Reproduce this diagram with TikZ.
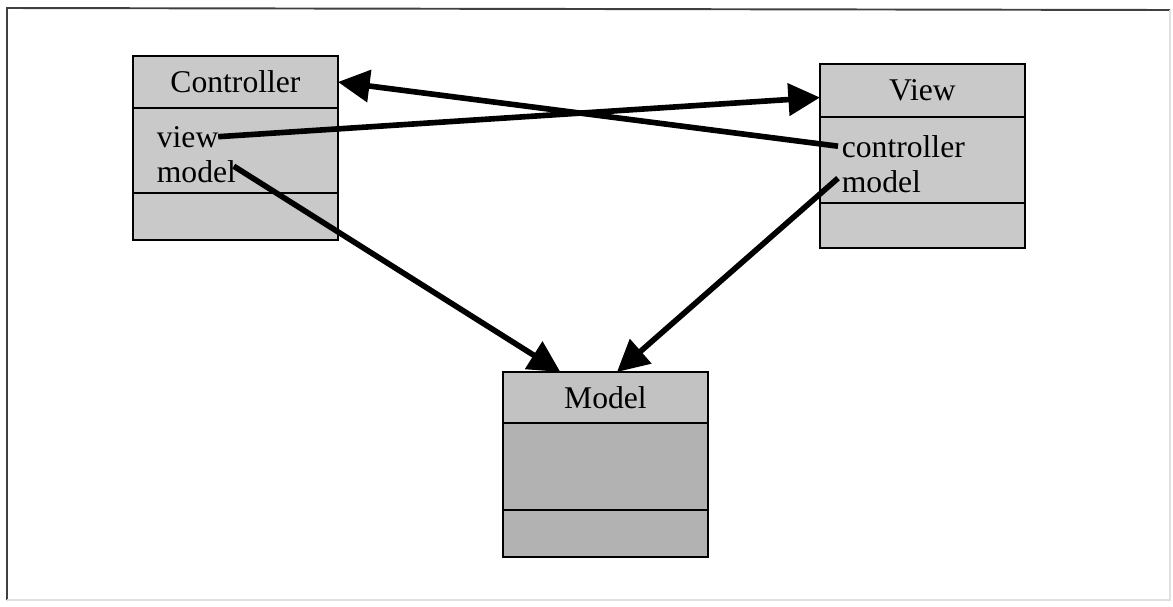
\documentclass[tikz,border=0pt]{standalone}
\usepackage{fontspec}
\setmainfont{Liberation Serif}
\usetikzlibrary{arrows.meta,calc}
\definecolor{boxfill}{gray}{0.79}
\definecolor{modelfill}{gray}{0.70}
\definecolor{modeltop}{gray}{0.76}
\begin{document}
\begin{tikzpicture}[x=0.02cm,y=-0.02cm,
  compart/.style={draw=black, line width=1.5pt, minimum width=4.1cm,
    inner sep=0pt, outer sep=0pt, anchor=north west,
    font=\fontsize{18}{20}\selectfont},
  attr/.style={inner sep=2pt, anchor=base west, font=\fontsize{18}{20}\selectfont},
  assoc/.style={line width=3.2pt, -{Triangle[length=18pt,width=18pt]}}
]
\useasboundingbox (0,0) rectangle (1173,606);

% outer frame
\draw[black!75, line width=1.1pt] (7,600) -- (7,8) -- (1170,10);
\draw[black!12, line width=0.8pt] (1170,10) -- (1170,600) -- (7,600);

% Controller class
\node[compart, fill=boxfill, minimum height=1.04cm] (ctitle) at (133,56) {\raisebox{-2pt}{Controller}};
\node[compart, fill=boxfill, minimum height=1.70cm] (cattr) at (ctitle.south west) {};
\node[compart, fill=boxfill, minimum height=0.94cm] (cops) at (cattr.south west) {};
\node[attr] (cview) at (153,147) {view};
\node[attr] (cmodel) at (153,182) {model};

% View class
\node[compart, fill=boxfill, minimum height=1.06cm] (vtitle) at (820,64) {\raisebox{-2pt}{View}};
\node[compart, fill=boxfill, minimum height=1.72cm] (vattr) at (vtitle.south west) {};
\node[compart, fill=boxfill, minimum height=0.90cm] (vops) at (vattr.south west) {};
\node[attr] (vctl) at (838,157) {controller};
\node[attr] (vmodel) at (838,192) {model};

% Model class
\node[compart, fill=modeltop, minimum height=1.02cm] (mtitle) at (503,372) {\raisebox{-2pt}{Model}};
\node[compart, fill=modelfill, minimum height=1.74cm] (mattr) at (mtitle.south west) {};
\node[compart, fill=modelfill, minimum height=0.94cm] (mops) at (mattr.south west) {};

% associations
\draw[assoc] (vctl.west) -- (ctitle.east);
\draw[assoc] ($(cview.east)+(-4,0)$) -- ($(vtitle.west)+(0,7)$);
\draw[assoc] ($(cmodel.east)+(-6,-5)$) -- ($(mtitle.north west)!0.28!(mtitle.north east)$);
\draw[assoc] ($(vmodel.west)+(0,-3)$) -- ($(mtitle.north west)!0.556!(mtitle.north east)$);
\end{tikzpicture}
\end{document}
